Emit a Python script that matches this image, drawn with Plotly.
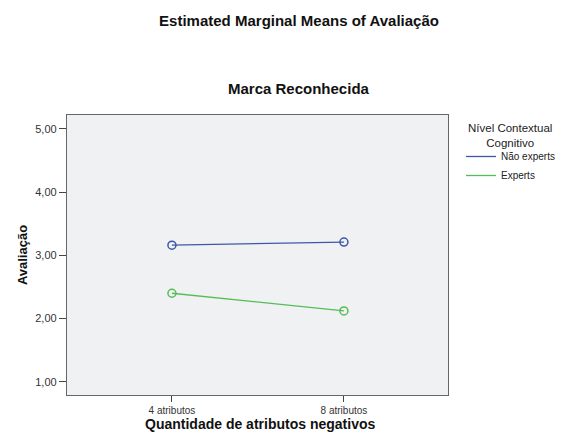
import plotly.graph_objects as go

categories = ["4 atributos", "8 atributos"]
nao_experts = [3.16, 3.21]
experts = [2.40, 2.12]
series_names = ["Não experts", "Experts"]
y_tick_vals = [1, 2, 3, 4, 5]
y_tick_text = ["1,00", "2,00", "3,00", "4,00", "5,00"]

FONT = "Arial, Liberation Sans, sans-serif"
# the page body has an 8px default margin; work in figure coordinates = page - 8
OFF = 8
W, H = 600, 439 - OFF
L, R, T, B = 67 - OFF, 448 - OFF, 115 - OFF, 395 - OFF
PW, PH = R - L, B - T


def px(xp):
    return (xp - OFF - L) / PW


def py(yp):
    return 1 - (yp - OFF - T) / PH


BLUE = "#3E58A8"
GREEN = "#55BD55"

fig = go.Figure()
for vals, name, col in [(nao_experts, series_names[0], BLUE), (experts, series_names[1], GREEN)]:
    fig.add_trace(go.Scatter(
        x=categories, y=vals, name=name, mode="lines",
        line=dict(color=col, width=1.3), showlegend=True,
    ))
    fig.add_trace(go.Scatter(
        x=categories, y=vals, name=name, mode="markers", showlegend=False,
        marker=dict(symbol="circle-open", size=8, color=col, line=dict(width=1.5)),
    ))

fig.update_layout(
    width=W, height=H,
    margin=dict(l=L, r=W - R, t=T, b=H - B),
    paper_bgcolor="white",
    plot_bgcolor="#F0F1F3",
    font=dict(family=FONT, size=10, color="#333333"),
    title=dict(text="<b>Estimated Marginal Means of Avaliação</b>",
               x=(299 - OFF) / W, xanchor="center", y=1 - (21 - OFF) / H, yanchor="middle",
               font=dict(family=FONT, size=15, color="#111111")),
    showlegend=True,
    legend=dict(
        x=px(461), xanchor="left", y=py(142), yanchor="top",
        bgcolor="rgba(0,0,0,0)",
        font=dict(family=FONT, size=10, color="#222222"),
        tracegroupgap=0, itemwidth=30,
    ),
    annotations=[
        dict(text="<b>Marca Reconhecida</b>", xref="paper", yref="paper",
             x=px(299), y=py(89), xanchor="center", yanchor="middle",
             showarrow=False, font=dict(family=FONT, size=15, color="#111111")),
        dict(text="Nível Contextual<br>Cognitivo", xref="paper", yref="paper",
             x=px(510), y=py(136), xanchor="center", yanchor="middle",
             align="center", showarrow=False,
             font=dict(family=FONT, size=11.5, color="#222222")),
        dict(text="<b>Quantidade de atributos negativos</b>", xref="paper", yref="paper",
             x=px(260), y=py(424), xanchor="center", yanchor="middle",
             showarrow=False, font=dict(family=FONT, size=14, color="#111111")),
    ],
)

fig.update_xaxes(
    type="category", range=[-0.61, 1.605],
    showgrid=False, zeroline=False,
    showline=True, linecolor="#666666", linewidth=1.3, mirror=True,
    ticks="outside", ticklen=6, tickcolor="#444444", tickwidth=1,
    tickfont=dict(family=FONT, size=10, color="#333333"),
)
fig.update_yaxes(
    range=[0.79, 5.22], tickvals=y_tick_vals, ticktext=y_tick_text,
    showgrid=False, zeroline=False,
    showline=True, linecolor="#666666", linewidth=1.3, mirror=True,
    ticks="outside", ticklen=7, tickcolor="#444444", tickwidth=1,
    tickfont=dict(family=FONT, size=11, color="#333333"),
    title=dict(text="<b>Avaliação</b>", standoff=4,
               font=dict(family=FONT, size=13, color="#111111")),
)

fig.write_html("out.html")
